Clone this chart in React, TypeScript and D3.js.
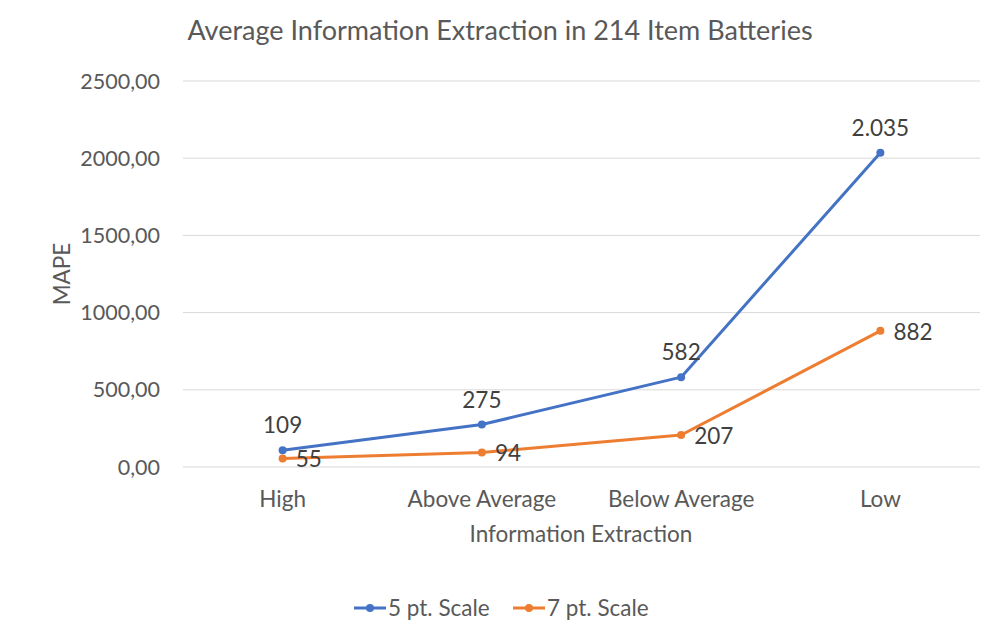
import React, { useRef, useEffect } from 'react';
import * as d3 from 'd3';

const categories = ['High', 'Above Average', 'Below Average', 'Low'];
const seriesNames = ['5 pt. Scale', '7 pt. Scale'];
const fivePoint = [109, 275, 582, 2035];
const sevenPoint = [55, 94, 207, 882];
const yTicks = [0, 500, 1000, 1500, 2000, 2500];
const colors = ['#4472C4', '#ED7D31'];

const W = 1000;
const H = 638;
const FONT = 'Lato, "Open Sans", sans-serif';

const fmtLabel = (v: number) => d3.format(',')(v).replace(/,/g, '.');
const fmtTick = (v: number) => v.toFixed(2).replace('.', ',');

export default function App() {
  const ref = useRef<SVGSVGElement | null>(null);

  useEffect(() => {
    if (!ref.current) return;
    const svg = d3.select(ref.current);
    svg.selectAll('*').remove();

    const x = d3.scaleBand<string>().domain(categories).range([183, 980]);
    const y = d3.scaleLinear().domain([0, 2500]).range([467, 81]);
    const cx = (c: string) => (x(c) ?? 0) + x.bandwidth() / 2;

    svg.append('rect').attr('width', W).attr('height', H).attr('fill', '#fff');

    // title
    svg.append('text')
      .attr('x', 500).attr('y', 40)
      .attr('text-anchor', 'middle')
      .attr('font-size', 27).attr('fill', '#595959')
      .text('Average Information Extraction in 214 Item Batteries');

    // gridlines + y tick labels
    const g = svg.append('g');
    yTicks.forEach(t => {
      g.append('line')
        .attr('x1', 183).attr('x2', 980)
        .attr('y1', y(t)).attr('y2', y(t))
        .attr('stroke', '#d9d9d9').attr('stroke-width', 1);
      g.append('text')
        .attr('x', 160).attr('y', y(t))
        .attr('dy', '0.35em')
        .attr('text-anchor', 'end')
        .attr('font-size', 21.5).attr('fill', '#595959')
        .text(fmtTick(t));
    });

    // category labels
    categories.forEach(c => {
      g.append('text')
        .attr('x', cx(c)).attr('y', 507)
        .attr('text-anchor', 'middle')
        .attr('font-size', 22.5).attr('fill', '#595959')
        .text(c);
    });

    // axis titles
    svg.append('text')
      .attr('x', 581).attr('y', 542)
      .attr('text-anchor', 'middle')
      .attr('font-size', 22.5).attr('fill', '#595959')
      .text('Information Extraction');
    svg.append('text')
      .attr('transform', `translate(70,${(y(0) + y(2500)) / 2}) rotate(-90)`)
      .attr('text-anchor', 'middle')
      .attr('font-size', 22.5).attr('fill', '#595959')
      .text('MAPE');

    const line = d3.line<number>()
      .x((_, i) => cx(categories[i]))
      .y(d => y(d));

    [fivePoint, sevenPoint].forEach((data, si) => {
      svg.append('path')
        .datum(data)
        .attr('fill', 'none')
        .attr('stroke', colors[si])
        .attr('stroke-width', 3)
        .attr('stroke-linejoin', 'round')
        .attr('d', line);
      data.forEach((v, i) => {
        svg.append('circle')
          .attr('cx', cx(categories[i])).attr('cy', y(v))
          .attr('r', 4).attr('fill', colors[si]);
      });
    });

    // data labels: 5pt above, 7pt right
    fivePoint.forEach((v, i) => {
      svg.append('text')
        .attr('x', cx(categories[i])).attr('y', y(v) - 17)
        .attr('text-anchor', 'middle')
        .attr('font-size', 22.5).attr('fill', '#404040')
        .text(fmtLabel(v));
    });
    sevenPoint.forEach((v, i) => {
      svg.append('text')
        .attr('x', cx(categories[i]) + 13).attr('y', y(v) + 1)
        .attr('dy', '0.35em')
        .attr('font-size', 22.5).attr('fill', '#404040')
        .text(fmtLabel(v));
    });

    // legend
    const legend = svg.append('g');
    const items = [
      { x0: 354, name: seriesNames[0], color: colors[0] },
      { x0: 513, name: seriesNames[1], color: colors[1] },
    ];
    items.forEach(it => {
      legend.append('line')
        .attr('x1', it.x0).attr('x2', it.x0 + 32)
        .attr('y1', 608).attr('y2', 608)
        .attr('stroke', it.color).attr('stroke-width', 3);
      legend.append('circle')
        .attr('cx', it.x0 + 16).attr('cy', 608)
        .attr('r', 4).attr('fill', it.color);
      legend.append('text')
        .attr('x', it.x0 + 34).attr('y', 608)
        .attr('dy', '0.35em')
        .attr('font-size', 22.5).attr('fill', '#595959')
        .text(it.name);
    });
  }, []);

  return (
    <div style={{ position: 'fixed', left: 0, top: 0, width: W, height: H }}>
      <svg ref={ref} width={W} height={H} style={{ display: 'block', fontFamily: FONT }} />
    </div>
  );
}
